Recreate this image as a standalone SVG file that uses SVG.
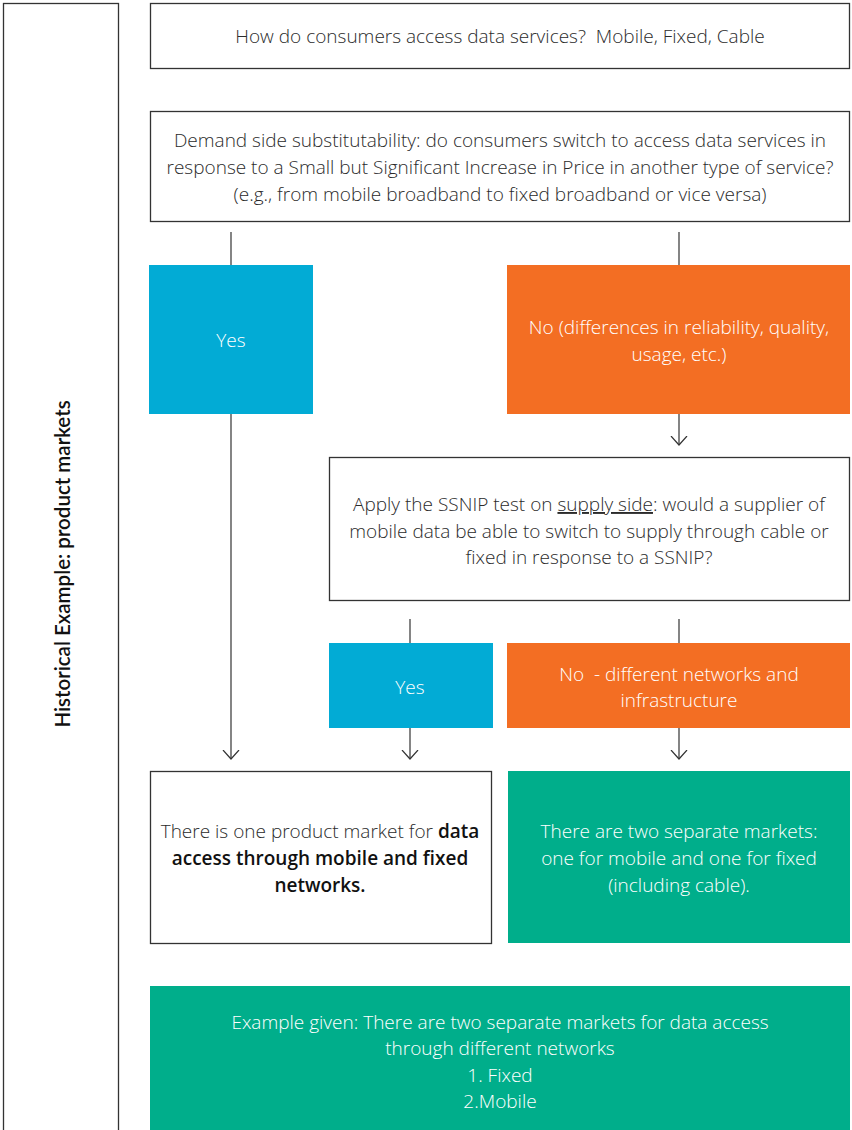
<svg xmlns="http://www.w3.org/2000/svg" width="852" height="1130" viewBox="0 0 852 1130">
<style>
.box{fill:#fff;stroke:#333;stroke-width:1.3}
.t{font-family:"Open Sans","Liberation Sans",sans-serif;font-weight:300;font-size:19px;fill:#2b2b2b;text-anchor:middle;white-space:pre}
.w{fill:#fff}
.b{font-weight:600;fill:#111}
.c{stroke:#333;stroke-width:1.2;fill:none}
</style>
<defs>
<marker id="ah" markerWidth="10" markerHeight="18" refX="9.5" refY="9" orient="auto" markerUnits="userSpaceOnUse" viewBox="0 0 10 18">
<path d="M0.5,1 L9.5,9 L0.5,17" fill="none" stroke="#333" stroke-width="1.2"/>
</marker>
</defs>
<rect width="852" height="1130" fill="#fff"/>
<g id="sidebar">
<rect x="3.5" y="3.5" width="115" height="1140" class="box"/>
<text transform="translate(70,564) rotate(-90)" font-family="Lato,'Liberation Sans',sans-serif" font-size="20.5" font-weight="600" fill="#111" text-anchor="middle">Historical Example: product markets</text>
</g>
<g id="connectors">
<line x1="231" y1="232" x2="231" y2="265" class="c"/>
<line x1="679" y1="232" x2="679" y2="265" class="c"/>
<line x1="679" y1="414" x2="679" y2="445" class="c" marker-end="url(#ah)"/>
<line x1="410" y1="619" x2="410" y2="643" class="c"/>
<line x1="679" y1="619" x2="679" y2="643" class="c"/>
<line x1="231" y1="414" x2="231" y2="759" class="c" marker-end="url(#ah)"/>
<line x1="410" y1="728" x2="410" y2="759" class="c" marker-end="url(#ah)"/>
<line x1="679" y1="728" x2="679" y2="759" class="c" marker-end="url(#ah)"/>
</g>
<g id="q1">
<rect x="150.5" y="3.5" width="699" height="65" class="box"/>
<text x="500" y="43" class="t" xml:space="preserve">How do consumers access data services?  Mobile, Fixed, Cable</text>
</g>
<g id="demand">
<rect x="150.5" y="111.5" width="699" height="110" class="box"/>
<text x="500" y="147" class="t">Demand side substitutability: do consumers switch to access data services in</text>
<text x="500" y="174" class="t">response to a Small but Significant Increase in Price in another type of service?</text>
<text x="500" y="201" class="t">(e.g., from mobile broadband to fixed broadband or vice versa)</text>
</g>
<g id="yes1">
<rect x="149" y="265" width="164" height="149" fill="#02ABD5"/>
<text x="231" y="347" class="t w">Yes</text>
</g>
<g id="no1">
<rect x="507" y="265" width="343" height="149" fill="#F36E23"/>
<text x="679" y="334" class="t w">No (differences in reliability, quality,</text>
<text x="679" y="361" class="t w">usage, etc.)</text>
</g>
<g id="ssnip">
<rect x="329.5" y="457.5" width="520" height="143" class="box"/>
<text x="589" y="511" class="t">Apply the SSNIP test on <tspan text-decoration="underline">supply side</tspan>: would a supplier of</text>
<text x="589" y="538" class="t">mobile data be able to switch to supply through cable or</text>
<text x="589" y="564" class="t">fixed in response to a SSNIP?</text>
</g>
<g id="yes2">
<rect x="329" y="643" width="164" height="85" fill="#02ABD5"/>
<text x="410" y="694" class="t w">Yes</text>
</g>
<g id="no2">
<rect x="507" y="643" width="343" height="85" fill="#F36E23"/>
<text x="679" y="681" class="t w" xml:space="preserve">No  - different networks and</text>
<text x="679" y="707" class="t w">infrastructure</text>
</g>
<g id="one-market">
<rect x="150.5" y="771.5" width="341" height="172" class="box"/>
<text x="320" y="838" class="t">There is one product market for <tspan class="b">data</tspan></text>
<text x="320" y="865" class="t b">access through mobile and fixed</text>
<text x="320" y="892" class="t b">networks.</text>
</g>
<g id="two-markets">
<rect x="508" y="771" width="342" height="172" fill="#00AE8B"/>
<text x="679" y="838" class="t w">There are two separate markets:</text>
<text x="679" y="865" class="t w">one for mobile and one for fixed</text>
<text x="679" y="892" class="t w">(including cable).</text>
</g>
<g id="example">
<rect x="150" y="986" width="700" height="150" fill="#00AE8B"/>
<text x="500" y="1029" class="t w">Example given: There are two separate markets for data access</text>
<text x="500" y="1055" class="t w">through different networks</text>
<text x="500" y="1082" class="t w">1. Fixed</text>
<text x="500" y="1108" class="t w">2.Mobile</text>
</g>
</svg>
